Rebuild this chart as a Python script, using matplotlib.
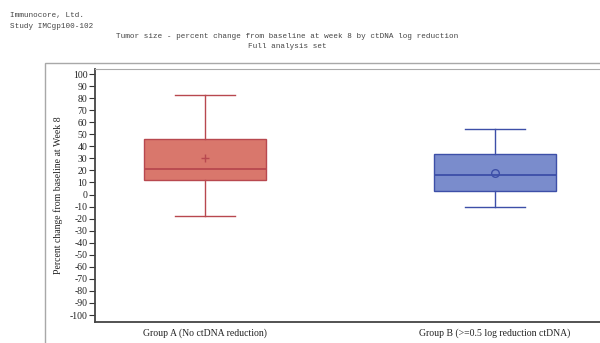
import matplotlib
matplotlib.use("Agg")
import matplotlib.pyplot as plt
from matplotlib.patches import Rectangle

# Data
groups = ["Group A (No ctDNA reduction)", "Group B (>=0.5 log reduction ctDNA)"]
whislo = [-18, -10]
q1 = [12, 3]
median = [21.5, 16]
q3 = [46.5, 34]
whishi = [83, 54]
mean = [30, 18]
yticks = list(range(-100, 101, 10))

fill_colors = ["#d9776c", "#7a8ccc"]
edge_colors = ["#b8484f", "#3d4fa8"]
mean_markers = ["+", "o"]

W, H = 600, 343
fig = plt.figure(figsize=(W / 100, H / 100), dpi=100)

# outer frame
frame = Rectangle((45 / W, -0.05), 1.0, (H - 63) / H + 0.05, transform=fig.transFigure,
                  fill=False, edgecolor="#a8a8a8", linewidth=1.0, clip_on=False)
fig.patches.append(frame)

ax = fig.add_axes([95 / W, (H - 322) / H, 510 / W, (322 - 69) / H])

stats = []
for i in range(len(groups)):
    stats.append(dict(label=groups[i], whislo=whislo[i], q1=q1[i], med=median[i],
                      q3=q3[i], whishi=whishi[i], mean=mean[i], fliers=[]))

positions = list(range(len(groups)))
for i, s in enumerate(stats):
    ec = edge_colors[i]
    ax.bxp([s], positions=[positions[i]], widths=0.42, capwidths=0.21,
           patch_artist=True, showmeans=True, showfliers=False,
           boxprops=dict(facecolor=fill_colors[i], edgecolor=ec, linewidth=1.0),
           medianprops=dict(color=ec, linewidth=1.3),
           whiskerprops=dict(color=ec, linewidth=1.0),
           capprops=dict(color=ec, linewidth=1.0),
           meanprops=dict(marker=mean_markers[i], markeredgecolor=ec,
                          markerfacecolor="none", markersize=5.5, markeredgewidth=1.0))

ax.set_xlim(-110 / 290, 1 + 110 / 290)
ax.set_ylim(-105.8, 104.2)
ax.set_yticks(yticks)
ax.set_yticklabels([str(v) for v in yticks])
ax.set_xticks(positions)
ax.set_xticklabels(groups)

serif = "Liberation Serif"
for lab in ax.get_yticklabels():
    lab.set_fontfamily(serif)
    lab.set_fontsize(7)
    lab.set_color("#222222")
for lab in ax.get_xticklabels():
    lab.set_fontfamily(serif)
    lab.set_fontsize(7)
    lab.set_color("#222222")

ax.tick_params(axis="y", length=4, width=0.8, color="#333333", pad=1.5)
ax.tick_params(axis="x", length=0, pad=4.5)
for side in ["left", "bottom"]:
    ax.spines[side].set_linewidth(1.3)
    ax.spines[side].set_color("#444444")
ax.spines["top"].set_linewidth(0.8)
ax.spines["top"].set_color("#aaaaaa")
ax.spines["right"].set_visible(False)

ax.set_ylabel("Percent change from baseline at Week 8", fontfamily=serif, fontsize=7,
              color="#222222")
ax.yaxis.set_label_coords((63 - 95) / 510, 0.5)

mono = "Liberation Mono"
tc = "#444444"
fig.text(10 / W, 1 - 15 / H, "Immunocore, Ltd.", fontfamily=mono, fontsize=5.5,
         color=tc, va="center", ha="left")
fig.text(10 / W, 1 - 26 / H, "Study IMCgp100-102", fontfamily=mono, fontsize=5.5,
         color=tc, va="center", ha="left")
fig.text(287 / W, 1 - 36 / H,
         "Tumor size - percent change from baseline at week 8 by ctDNA log reduction",
         fontfamily=mono, fontsize=5.5, color=tc, va="center", ha="center")
fig.text(287 / W, 1 - 47 / H, "Full analysis set", fontfamily=mono, fontsize=5.5,
         color=tc, va="center", ha="center")

fig.savefig("out.png", dpi=100)
